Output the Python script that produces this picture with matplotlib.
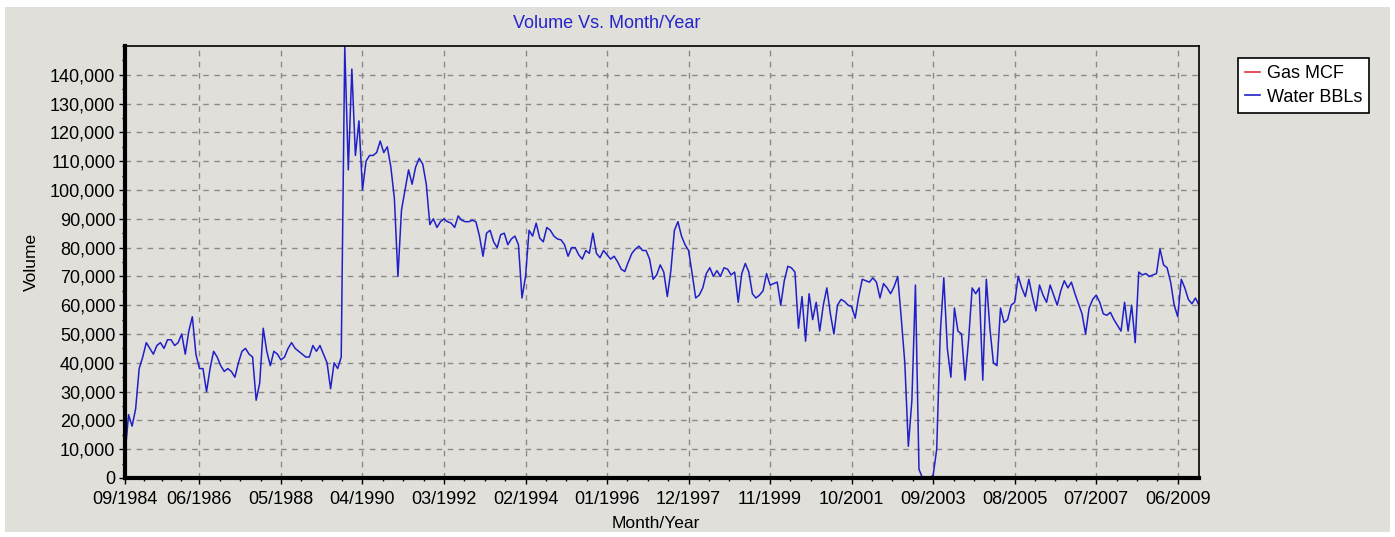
import numpy as np
import pandas as pd
import matplotlib
matplotlib.use('Agg')
import matplotlib.pyplot as plt
from matplotlib.lines import Line2D
from matplotlib.patches import Rectangle
from matplotlib.ticker import FixedLocator, FuncFormatter, MultipleLocator

# %% DATA - monthly water volume (09/1984 .. 12/2009)
start_month = '1984-09'
water_bbls = [
    # 1984-09 .. 1989-10
    8000, 22000, 18000, 24000, 38000, 42000, 47000, 45000, 43000, 46000,
    47000, 45000, 48000, 48000, 46000, 47000, 50000, 43000, 51000, 56000,
    43000, 38000, 38000, 30000, 38000, 44000, 42000, 39000, 37000, 38000,
    37000, 35000, 40000, 44000, 45000, 43000, 42000, 27000, 33000, 52000,
    44000, 39000, 44000, 43000, 41000, 42000, 45000, 47000, 45000, 44000,
    43000, 42000, 42000, 46000, 44000, 46000, 43000, 40000, 31000, 40000,
    38000, 42000,
    # jump and high plateau
    150000, 107000, 142000, 112000, 124000, 100000, 110000, 112000, 112000,
    113000, 117000, 113000, 115000, 108000, 97000, 70000, 93000, 100000,
    107000, 102000, 108000, 111000, 109000, 102000, 88000, 90000, 87000,
    89000, 90000,
    # 1992 .. 1995
    89000, 88500, 87000, 91000, 89500, 89000, 89000, 89500, 89000, 84000,
    77000, 85000, 86000, 82000, 80000, 84500, 85000, 81000, 83000, 84000,
    81000, 62500, 70000, 86000, 84000, 88500, 83300, 82000, 87000, 86000,
    84000, 83000, 82700, 81000, 77000, 80000, 80000, 77500, 76000, 79000,
    # 1995 .. 1999
    78000, 85000, 78000, 76500, 79000, 77500, 76000, 77000, 75000, 72500,
    71700, 75000, 78000, 79500, 80500, 79000, 79000, 76000, 69000, 70500,
    74000, 71500, 63000, 72000, 86000, 89000, 84000, 81000, 79000, 71000,
    62500, 63500, 66000, 71000, 73000, 70000, 72000, 70000, 73000, 72500,
    70500, 71500, 61000,
    # 1999 .. 2002
    71000, 74500, 71500, 64000, 62500, 63500, 65000, 71000, 67000, 67500,
    68000, 60000, 68500, 73500, 73000, 71500, 52000, 63000, 47500, 64000,
    55000, 61000, 51000, 60000, 66000, 57000, 50000, 60000, 62000, 61300,
    60000, 59500, 55500, 63000, 69000, 68500, 68000, 69500, 68000, 62500,
    67500, 66000, 64000,
    # 2002 .. 2006
    66500, 70000, 55500, 40000, 11000, 27000, 67000, 3000, 0, 0,
    0, 1000, 10000, 50000, 69500, 45000, 35000, 59000, 51000, 50000,
    34000, 48000, 66000, 64000, 66000, 34000, 69000, 52000, 40000, 39000,
    59000, 54000, 55000, 60000, 61000, 70000, 66000, 63000, 69000, 63000,
    58000, 67000, 63500, 61000,
    # 2006 .. 2009
    67000, 63500, 60000, 65000, 68500, 66000, 68000, 64000, 60500, 57000,
    50000, 59000, 62000, 63500, 61000, 57000, 56500, 57500, 55000, 53000,
    51000, 61000, 51000, 60000, 47000, 71500, 70500, 71000, 70000, 70500,
    71000, 79500, 74000, 73000, 68000, 60000, 56000, 69000, 66000, 62000,
    60500, 62500, 60000,
]
tick_labels = ['09/1984', '06/1986', '05/1988', '04/1990', '03/1992',
               '02/1994', '01/1996', '12/1997', '11/1999', '10/2001',
               '09/2003', '08/2005', '07/2007', '06/2009']
y_ticks = [0, 10000, 20000, 30000, 40000, 50000, 60000, 70000,
           80000, 90000, 100000, 110000, 120000, 130000, 140000]
series_names = ['Gas MCF', 'Water BBLs']

bg = '#E0DFDA'
blue = '#2020C8'
red = '#E0303C'
W, H = 1395, 537

plt.rcParams['font.family'] = ['Liberation Sans', 'DejaVu Sans']

months = pd.period_range(start_month, periods=len(water_bbls), freq='M')
x = np.arange(len(months))
tick_pos = [months.get_loc(pd.Period(lbl[3:] + '-' + lbl[:2], freq='M'))
            for lbl in tick_labels]
minor_pos = []
for a, b in zip(tick_pos[:-1], tick_pos[1:]):
    minor_pos += list(np.linspace(a, b, 5)[1:-1])

fig = plt.figure(figsize=(W / 100, H / 100), dpi=100, facecolor='white')
# grey panel behind everything
fig.patches.append(Rectangle((5 / W, 5 / H), 1385 / W, 525 / H,
                             transform=fig.transFigure, facecolor=bg,
                             edgecolor='none', zorder=-5))

ax = fig.add_axes([125 / W, 1 - 478 / H, 1074 / W, 432 / H])
ax.set_facecolor(bg)
ax.plot(x, water_bbls, color=blue, lw=1.1, zorder=3)

ax.set_xlim(0, len(months) - 1)
ax.set_ylim(0, 150000)
ax.xaxis.set_major_locator(FixedLocator(tick_pos))
ax.xaxis.set_minor_locator(FixedLocator(minor_pos))
ax.set_xticklabels(tick_labels)
ax.yaxis.set_major_locator(FixedLocator(y_ticks))
ax.yaxis.set_minor_locator(MultipleLocator(5000))
ax.yaxis.set_major_formatter(FuncFormatter(lambda v, p: f'{int(v):,}'))

ax.grid(True, which='major', color='#8A8A8A', ls=(0, (4, 4)), lw=1.0)
ax.tick_params(axis='both', which='major', labelsize=13, length=4,
               width=1, color='black', pad=3)
ax.tick_params(axis='x', which='major', pad=5)
ax.tick_params(axis='both', which='minor', length=2, width=1)

for side in ['top', 'right']:
    ax.spines[side].set_linewidth(1.2)
for side in ['left', 'bottom']:
    ax.spines[side].set_linewidth(3)
for sp in ax.spines.values():
    sp.set_color('black')
    sp.set_zorder(4)

fig.text(607 / W, 1 - 24 / H, 'Volume Vs. Month/Year', color='#2424CC',
         ha='center', va='center', fontsize=13)
fig.text(31 / W, 1 - 262 / H, 'Volume', rotation=90, ha='center',
         va='center', fontsize=12.5)
fig.text(656 / W, 1 - 524 / H, 'Month/Year', ha='center', va='center',
         fontsize=12.5)

handles = [Line2D([], [], color=red, lw=1.2),
           Line2D([], [], color=blue, lw=1.2)]
leg = fig.legend(handles, series_names, loc='upper left',
                 bbox_to_anchor=(1238 / W, 1 - 58 / H), fontsize=13,
                 frameon=True, fancybox=False, edgecolor='black',
                 facecolor='white', framealpha=1, handlelength=0.8,
                 handletextpad=0.4, borderpad=0.4, labelspacing=0.35,
                 borderaxespad=0)
leg.get_frame().set_linewidth(1.2)

fig.savefig('out.png', dpi=100, facecolor='white')
